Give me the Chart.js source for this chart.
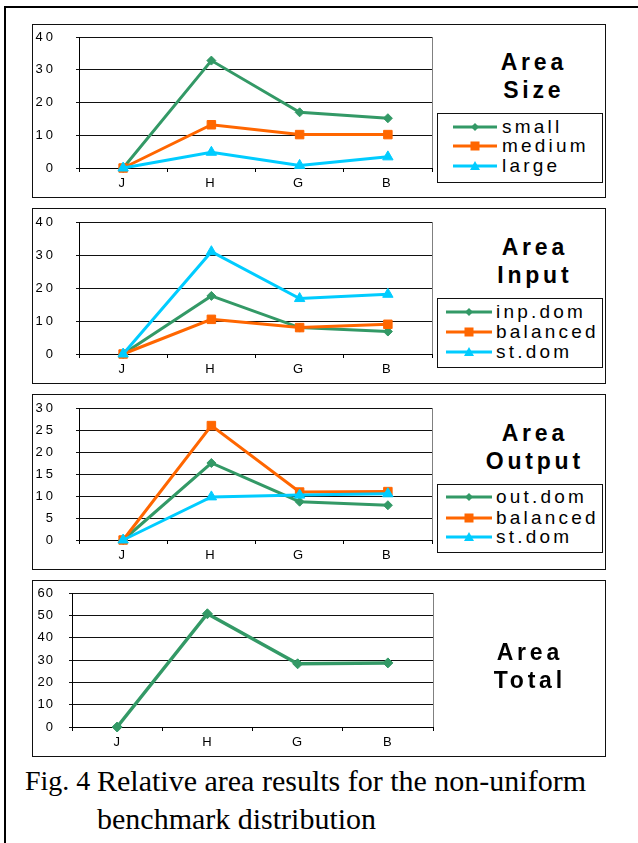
<!DOCTYPE html>
<html><head><meta charset="utf-8">
<script src="https://cdn.jsdelivr.net/npm/chart.js@4.4.1/dist/chart.umd.min.js"></script>
<style>
html,body{margin:0;padding:0;background:#fff;}
body{width:638px;height:843px;position:relative;overflow:hidden;font-family:"Liberation Sans",Arial,sans-serif;color:#000;}
.frameL{position:absolute;left:4px;top:6px;width:2px;height:837px;background:#000;}
.frameT{position:absolute;left:4px;top:6px;width:634px;height:2px;background:#000;}
.panel{position:absolute;left:32px;width:574px;border:1px solid #111;box-sizing:border-box;}
canvas{position:absolute;}
.title{position:absolute;font-weight:bold;font-size:23px;letter-spacing:3.8px;padding-left:3.8px;text-align:center;width:180px;line-height:28px;white-space:pre;}
.legend{position:absolute;left:437px;width:166px;border:1px solid #111;box-sizing:border-box;}
.lrow{position:absolute;left:0;width:166px;height:20px;}
.lrow svg{position:absolute;top:0;}
.lrow span{position:absolute;top:0;line-height:20px;font-size:19px;letter-spacing:3.2px;white-space:nowrap;}
.cap{position:absolute;font-family:"Liberation Serif","Times New Roman",serif;font-size:30px;line-height:30px;white-space:nowrap;}
</style>
</head><body>
<div class="frameL"></div><div class="frameT"></div>

<div class="panel" style="top:24px;height:174px;"></div>
<div class="panel" style="top:208px;height:176px;"></div>
<div class="panel" style="top:394px;height:176px;"></div>
<div class="panel" style="top:580px;height:177px;"></div>

<canvas id="c1" width="404" height="171" style="left:33px;top:25px;"></canvas>
<canvas id="c2" width="404" height="173" style="left:33px;top:209px;"></canvas>
<canvas id="c3" width="404" height="173" style="left:33px;top:395px;"></canvas>
<canvas id="c4" width="404" height="174" style="left:33px;top:581px;"></canvas>

<div class="title" style="left:440px;top:48px;">Area
Size</div>
<div class="title" style="left:441px;top:233px;">Area
Input</div>
<div class="title" style="left:441px;top:419px;">Area
Output</div>
<div class="title" style="left:436px;top:638px;">Area
Total</div>

<div class="legend" id="lg1" style="top:113px;height:70px;"></div>
<div class="legend" id="lg2" style="top:298px;height:70px;"></div>
<div class="legend" id="lg3" style="top:484px;height:69px;"></div>

<div class="cap" style="left:25px;top:766px;font-size:28px;">Fig. 4</div>
<div class="cap" style="left:97px;top:766px;">Relative area results for the non-uniform</div>
<div class="cap" style="left:97px;top:804px;">benchmark distribution</div>

<script>
// ---- data ----
const categories = ['J', 'H', 'G', 'B'];

const sizeSmall  = [0, 32.8, 17.0, 15.2];
const sizeMedium = [0, 13.2, 10.2, 10.2];
const sizeLarge  = [0, 4.8, 0.8, 3.4];

const inputInpDom   = [0, 17.6, 8.0, 6.8];
const inputBalanced = [0, 10.5, 8.0, 9.0];
const inputStDom    = [0, 31.0, 16.8, 18.1];

const outputOutDom   = [0, 17.5, 8.7, 7.9];
const outputBalanced = [0, 26.0, 10.9, 11.0];
const outputStDom    = [0, 9.8, 10.2, 10.5];

const totalArea = [0, 50.7, 28.3, 28.7];

const sizeLabels   = ['small', 'medium', 'large'];
const inputLabels  = ['inp.dom', 'balanced', 'st.dom'];
const outputLabels = ['out.dom', 'balanced', 'st.dom'];

const yMax1 = 40, yStep1 = 10;
const yMax2 = 40, yStep2 = 10;
const yMax3 = 30, yStep3 = 5;
const yMax4 = 60, yStep4 = 10;

// ---- styles ----
const GREEN = '#339966', ORANGE = '#FF6600', CYAN = '#00CCFF';

Chart.defaults.font.family = '"Liberation Sans", Arial, sans-serif';
Chart.defaults.font.size = 13;
Chart.defaults.color = '#000';
Chart.defaults.animation = false;

const spacingPlugin = {
  id: 'spacing',
  beforeDraw(chart, args, opts) { chart.ctx.letterSpacing = opts.value || '0px'; }
};
const framePlugin = {
  id: 'frame',
  afterDraw(chart) {
    const {ctx, chartArea: a} = chart;
    ctx.save();
    ctx.strokeStyle = '#808080';
    ctx.lineWidth = 1;
    const x = Math.round(a.right) + 0.5;
    ctx.beginPath(); ctx.moveTo(x, a.top); ctx.lineTo(x, a.bottom); ctx.stroke();
    ctx.restore();
  }
};

function ds(label, data, color, style, radius, order, width) {
  return {
    label, data, borderColor: color, backgroundColor: color,
    borderWidth: width || 3, pointStyle: style, pointRadius: radius,
    pointBorderWidth: 1, pointHoverRadius: radius, order, tension: 0, clip: false
  };
}

function makeChart(id, datasets, yMax, yStep, geo) {
  new Chart(document.getElementById(id), {
    type: 'line',
    data: { labels: categories, datasets },
    plugins: [spacingPlugin, framePlugin],
    options: {
      responsive: false,
      maintainAspectRatio: false,
      layout: { autoPadding: false, padding: { top: geo.top, right: geo.right, left: 0, bottom: 0 } },
      plugins: { legend: { display: false }, tooltip: { enabled: false }, spacing: { value: geo.ls } },
      scales: {
        x: {
          offset: true,
          grid: { offset: true, drawOnChartArea: false, drawTicks: true, tickLength: 4, color: '#000', lineWidth: 1 },
          border: { color: '#000', width: 1 },
          ticks: { padding: 4, font: { size: 13 }, maxRotation: 0 },
          afterFit(s) { s.height = geo.xh; s.paddingLeft = 0; s.paddingRight = 0; }
        },
        y: {
          min: 0, max: yMax,
          grid: { color: '#111', lineWidth: 1, drawTicks: true, tickLength: 3 },
          border: { color: '#000', width: 1 },
          ticks: { stepSize: yStep, padding: geo.tp, font: { size: 13 } },
          afterFit(s) { s.width = geo.yw; s.paddingTop = 0; s.paddingBottom = 0; }
        }
      }
    }
  });
}

makeChart('c1', [
  ds(sizeLabels[0], sizeSmall, GREEN, 'rectRot', 4.5, 2),
  ds(sizeLabels[1], sizeMedium, ORANGE, 'rect', 6, 1),
  ds(sizeLabels[2], sizeLarge, CYAN, 'triangle', 6, 0)
], yMax1, yStep1, { top: 12, right: 5, xh: 28, yw: 46, tp: 20, ls: '3px' });

makeChart('c2', [
  ds(inputLabels[0], inputInpDom, GREEN, 'rectRot', 4.5, 2),
  ds(inputLabels[1], inputBalanced, ORANGE, 'rect', 6, 1),
  ds(inputLabels[2], inputStDom, CYAN, 'triangle', 6, 0)
], yMax2, yStep2, { top: 13, right: 5, xh: 28, yw: 46, tp: 20, ls: '3px' });

makeChart('c3', [
  ds(outputLabels[0], outputOutDom, GREEN, 'rectRot', 4.5, 2),
  ds(outputLabels[1], outputBalanced, ORANGE, 'rect', 6, 1),
  ds(outputLabels[2], outputStDom, CYAN, 'triangle', 6, 0)
], yMax3, yStep3, { top: 13, right: 5, xh: 28, yw: 46, tp: 20, ls: '3px' });

makeChart('c4', [
  ds('total', totalArea, GREEN, 'rectRot', 5, 0, 3.5)
], yMax4, yStep4, { top: 12, right: 4, xh: 28, yw: 39, tp: 15, ls: '1px' });

// ---- legends (HTML) ----
function markerSvg(style, color) {
  if (style === 'rectRot') return `<polygon points="0,-4 4,0 0,4 -4,0" fill="${color}"/>`;
  if (style === 'rect') return `<rect x="-4.5" y="-4.5" width="9" height="9" fill="${color}"/>`;
  return `<polygon points="0,-5 5,4 -5,4" fill="${color}"/>`;
}
function buildLegend(id, labels, rows, lx0, lx1, tx) {
  const el = document.getElementById(id);
  const styles = ['rectRot', 'rect', 'triangle'];
  const colors = [GREEN, ORANGE, CYAN];
  labels.forEach((lab, i) => {
    const r = document.createElement('div');
    r.className = 'lrow';
    r.style.top = (rows[i] - 10) + 'px';
    const w = lx1 - lx0, cx = w / 2;
    r.innerHTML = `<svg width="${w + 2}" height="20" style="left:${lx0 - 1}px"><g transform="translate(1,10)"><line x1="0" y1="0" x2="${w}" y2="0" stroke="${colors[i]}" stroke-width="3"/><g transform="translate(${cx},0)">${markerSvg(styles[i], colors[i])}</g></g></svg><span style="left:${tx}px">${lab}</span>`;
    el.appendChild(r);
  });
}
buildLegend('lg1', sizeLabels, [13, 32, 52], 15, 59, 64);
buildLegend('lg2', inputLabels, [13, 33, 53], 8, 54, 58);
buildLegend('lg3', outputLabels, [12, 33, 52], 8, 54, 58);
</script>
</body></html>
